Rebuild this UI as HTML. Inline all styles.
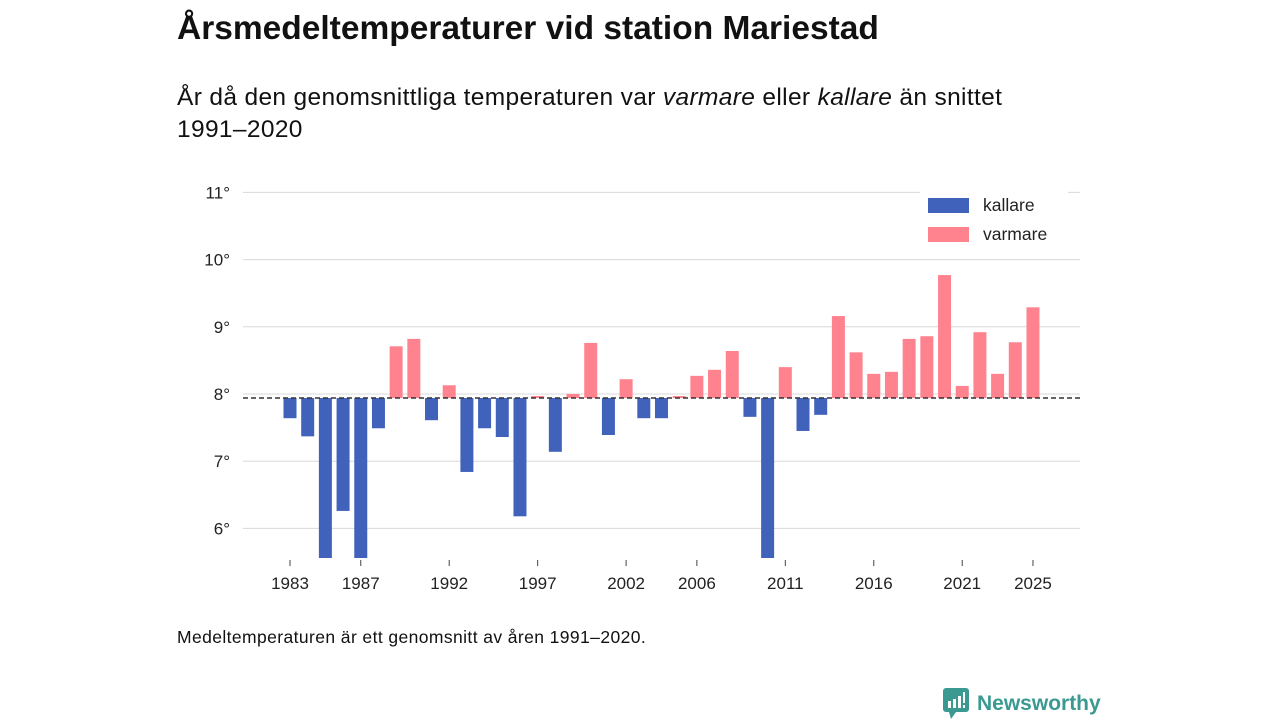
<!DOCTYPE html>
<html><head><meta charset="utf-8"><style>
body{margin:0;width:1280px;height:720px;background:#fff;font-family:"Liberation Sans",sans-serif;color:#111;overflow:hidden;position:relative}
#title{position:absolute;left:177px;top:10px;font-size:33.5px;font-weight:bold;margin:0}
#sub{position:absolute;left:177px;top:82px;font-size:24.5px;letter-spacing:0.35px;line-height:32px;width:1000px}
#note{position:absolute;left:177px;top:627px;font-size:17.5px;letter-spacing:0.4px}
#logo{position:absolute;left:943px;top:688px;display:flex;align-items:center;color:#3a9a91;font-size:21px;font-weight:bold}
svg text{font-family:"Liberation Sans",sans-serif}
</style></head><body>
<h1 id="title">Årsmedeltemperaturer vid station Mariestad</h1>
<div id="sub">År då den genomsnittliga temperaturen var <i>varmare</i> eller <i>kallare</i> än snittet<br>1991–2020</div>
<svg id="chart" width="1280" height="720" style="position:absolute;left:0;top:0"></svg>
<div id="note">Medeltemperaturen är ett genomsnitt av åren 1991–2020.</div>
<div id="logo"><svg width="26" height="32" viewBox="0 0 26 32"><rect x="0" y="0" width="26" height="24" rx="3" fill="#3a9a91"/><polygon points="6,24 13,24 8,31" fill="#3a9a91"/><rect x="5" y="13" width="3" height="7" fill="#fff"/><rect x="10" y="11" width="3" height="9" fill="#fff"/><rect x="15" y="8" width="3" height="12" fill="#fff"/><rect x="20" y="4" width="2" height="11" fill="#fff"/><rect x="20" y="17" width="2" height="3" fill="#fff"/></svg><span style="margin-left:8px">Newsworthy</span></div>
<script>
const years=[1983,1984,1985,1986,1987,1988,1989,1990,1991,1992,1993,1994,1995,1996,1997,1998,1999,2000,2001,2002,2003,2004,2005,2006,2007,2008,2009,2010,2011,2012,2013,2014,2015,2016,2017,2018,2019,2020,2021,2022,2023,2024,2025];
const temps=[7.64,7.37,5.4,6.26,5.4,7.49,8.71,8.82,7.61,8.13,6.84,7.49,7.36,6.18,7.97,7.14,8.0,8.76,7.39,8.22,7.64,7.64,7.97,8.27,8.36,8.64,7.66,5.4,8.40,7.45,7.69,9.16,8.62,8.30,8.33,8.82,8.86,9.77,8.12,8.92,8.30,8.77,9.29];
const yTicks=[6,7,8,9,10,11];
const xTicks=[1983,1987,1992,1997,2002,2006,2011,2016,2021,2025];
const mean=7.94;
const svg=document.getElementById('chart');const NS='http://www.w3.org/2000/svg';
const y=v=>394-(v-8)*67.2;const x=yr=>290+(yr-1983)*17.69;
const yMin=558;
function mk(t,a,p){const e=document.createElementNS(NS,t);for(const k in a)e.setAttribute(k,a[k]);(p||svg).appendChild(e);return e;}
yTicks.forEach(v=>{
 const l=mk('line',{x1:243,x2:1080,y1:y(v),y2:y(v),stroke:'#d8d8d8','stroke-width':1});
 
 
 const t=mk('text',{x:230,y:y(v)+6,'text-anchor':'end','font-size':17,fill:'#222'});t.textContent=v+'°';
 
 
});
years.forEach((yr,i)=>{
 const v=temps[i];let a=y(v),b=y(mean);let top=Math.min(a,b),bot=Math.min(Math.max(a,b),yMin);
 const r=mk('rect',{x:x(yr)-6.5,y:top,width:13,height:Math.max(bot-top,1),fill:v<mean?'#4062bb':'#ff838f'});
 
 
});
const d=mk('line',{x1:243,x2:1080,y1:y(mean),y2:y(mean),stroke:'#333','stroke-width':1.5,'stroke-dasharray':'5,3'});


xTicks.forEach(yr=>{
 const l=mk('line',{x1:x(yr),x2:x(yr),y1:560,y2:566,stroke:'#444'});
 
 
 const t=mk('text',{x:x(yr),y:589,'text-anchor':'middle','font-size':17,fill:'#222'});t.textContent=yr;
 
 
});
const bg=mk('rect',{x:920,y:190,width:148,height:62,fill:'#fff'});


[['kallare','#4062bb',205],['varmare','#ff838f',234]].forEach(([n,c,yy])=>{
 const r=mk('rect',{x:928,y:yy-7,width:41,height:15,fill:c});
 
 
 const t=mk('text',{x:983,y:yy+6,'font-size':17.5,fill:'#222'});t.textContent=n;
 
 
});
</script>
</body></html>
